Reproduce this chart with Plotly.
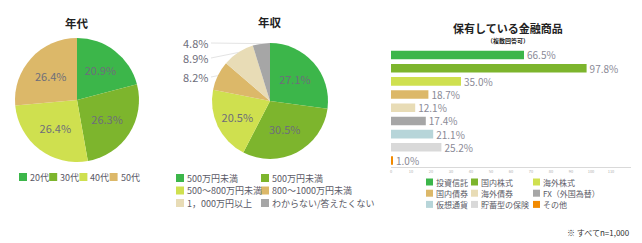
import math
import plotly.graph_objects as go

W, H = 642, 243

def px(x):
    return x / W

def py(y):
    return 1 - y / H

FONT = "Noto Sans CJK JP"
TXT = "#6e6e7a"
LEG = "#5a5a66"

# ---- data ----
age_labels = ["20代", "30代", "40代", "50代"]
age_values = [20.9, 26.3, 26.4, 26.4]
age_colors = ["#3cb64a", "#7db52d", "#cfe04f", "#dcb869"]

inc_labels = ["500万円未満", "500万円未満", "500～800万円未満", "800～1000万円未満",
              "1，000万円以上", "わからない/答えたくない"]
inc_values = [27.1, 30.5, 20.5, 8.2, 8.9, 4.8]
inc_colors = ["#3cb64a", "#7db52d", "#cfe04f", "#dcb869", "#e8dcb6", "#a6a6a6"]
inc_outside = [False, False, False, True, True, True]

prod_labels = ["投資信託", "国内株式", "海外株式", "国内債券", "海外債券",
               "FX（外国為替）", "仮想通貨", "貯蓄型の保険", "その他"]
prod_values = [66.5, 97.8, 35.0, 18.7, 12.1, 17.4, 21.1, 25.2, 1.0]
prod_colors = ["#3cb64a", "#7db52d", "#cfe04f", "#dcb869", "#e8dcb6",
               "#a6a6a6", "#b7d5d9", "#d9d9d9", "#f28a00"]
x_ticks = list(range(0, 120, 10))

fig = go.Figure()

fig.add_trace(go.Pie(
    labels=age_labels, values=age_values, sort=False, direction="clockwise",
    marker=dict(colors=age_colors, line=dict(width=0)),
    texttemplate="%{value:.1f}%", textposition="inside", insidetextorientation="horizontal",
    textfont=dict(family=FONT, size=11, color=TXT),
    domain=dict(x=[px(15), px(139)], y=[py(162), py(38)]),
    showlegend=False, hoverinfo="label+value",
))

# pie 2 geometry (pixels)
P2_CX, P2_CY, P2_R = 270, 101, 58
fig.add_trace(go.Pie(
    labels=[f"{i}" for i in range(len(inc_labels))], values=inc_values, sort=False,
    direction="clockwise",
    marker=dict(colors=inc_colors, line=dict(width=0)),
    texttemplate=["" if o else "%{value:.1f}%" for o in inc_outside],
    textposition="inside",
    insidetextorientation="horizontal",
    textfont=dict(family=FONT, size=11, color=TXT),
    domain=dict(x=[px(P2_CX - P2_R), px(P2_CX + P2_R)], y=[py(P2_CY + P2_R), py(P2_CY - P2_R)]),
    showlegend=False, customdata=inc_labels, hovertemplate="%{customdata}: %{value}%<extra></extra>",
))

fig.add_trace(go.Bar(
    x=prod_values, y=prod_labels, orientation="h", width=0.65,
    marker=dict(color=prod_colors, line=dict(width=0)),
    texttemplate="%{x:.1f}%", textposition="outside", cliponaxis=False,
    textfont=dict(family=FONT, size=10, color="#8a8a96"),
    showlegend=False, xaxis="x", yaxis="y",
))

fig.update_layout(
    width=W, height=H, margin=dict(l=0, r=0, t=0, b=0),
    paper_bgcolor="white", plot_bgcolor="white",
    font=dict(family=FONT, color=LEG),
    xaxis=dict(domain=[px(391), px(631)], range=[0, 120], tickvals=x_ticks,
               showgrid=False, zeroline=False, showline=True, linecolor="#d9d9d9",
               linewidth=1, tickfont=dict(size=4, color="#b0b0b0"), ticks="", anchor="y"),
    yaxis=dict(domain=[py(167.1), py(48.4)], categoryorder="array", categoryarray=prod_labels,
               range=[8.5, -0.5], showticklabels=False, showgrid=False, zeroline=False,
               showline=False, anchor="x"),
    uniformtext=dict(minsize=6, mode="show"),
)

ann = []
shapes = []

def title(x, y, text, size=11.5, bold=True):
    ann.append(dict(x=px(x), y=py(y), xref="paper", yref="paper", showarrow=False,
                    text=f"<b>{text}</b>" if bold else text,
                    font=dict(family=FONT, size=size, color="#222222"),
                    xanchor="center", yanchor="middle", borderpad=0))

title(77, 23, "年代")
title(270, 22, "年収")
title(508, 28, "保有している金融商品", size=11)
title(508, 40, "（複数回答可）", size=6)

# outside labels of pie 2, stacked at the left with leader lines to the slices
label_rows = {3: 77, 4: 58, 5: 43}
total = sum(inc_values)
cum = 0.0
for i, v in enumerate(inc_values):
    mid = (cum + v / 2) / total
    cum += v
    if not inc_outside[i]:
        continue
    a = 2 * math.pi * mid
    ex = P2_CX + P2_R * math.sin(a)
    ey = P2_CY - P2_R * math.cos(a)
    ly = label_rows[i]
    shapes.append(dict(type="line", xref="paper", yref="paper",
                       x0=px(211), y0=py(ly), x1=px(ex), y1=py(ey),
                       line=dict(color="#e4e4e4", width=1)))
    ann.append(dict(x=px(210), y=py(ly), xref="paper", yref="paper", showarrow=False,
                    text=f"{v:.1f}%", font=dict(family=FONT, size=11, color=TXT),
                    xanchor="right", yanchor="middle"))

def legend_item(x, y, color, text, size=9, box=8):
    shapes.append(dict(type="rect", xref="paper", yref="paper",
                       x0=px(x), x1=px(x + box), y0=py(y + box / 2), y1=py(y - box / 2),
                       fillcolor=color, line=dict(width=0)))
    ann.append(dict(x=px(x + box + 1), y=py(y), xref="paper", yref="paper", showarrow=False,
                    text=text, font=dict(family=FONT, size=size, color=LEG),
                    xanchor="left", yanchor="middle"))

for i, (lab, col) in enumerate(zip(age_labels, age_colors)):
    legend_item(19 + 30.2 * i, 177, col, lab)

for i, (lab, col) in enumerate(zip(inc_labels, inc_colors)):
    legend_item(176 + 85 * (i % 2), 178 + 12.5 * (i // 2), col, lab)

for i, (lab, col) in enumerate(zip(prod_labels, prod_colors)):
    legend_item([426, 471, 533][i % 3], 182 + 11.2 * (i // 3), col, lab, size=8, box=7)

ann.append(dict(x=px(632), y=py(232), xref="paper", yref="paper", showarrow=False,
                text="※ すべてn=1,000", font=dict(family=FONT, size=8, color="#333333"),
                xanchor="right", yanchor="middle"))

fig.update_layout(annotations=ann, shapes=shapes)
fig.write_html("out.html")
